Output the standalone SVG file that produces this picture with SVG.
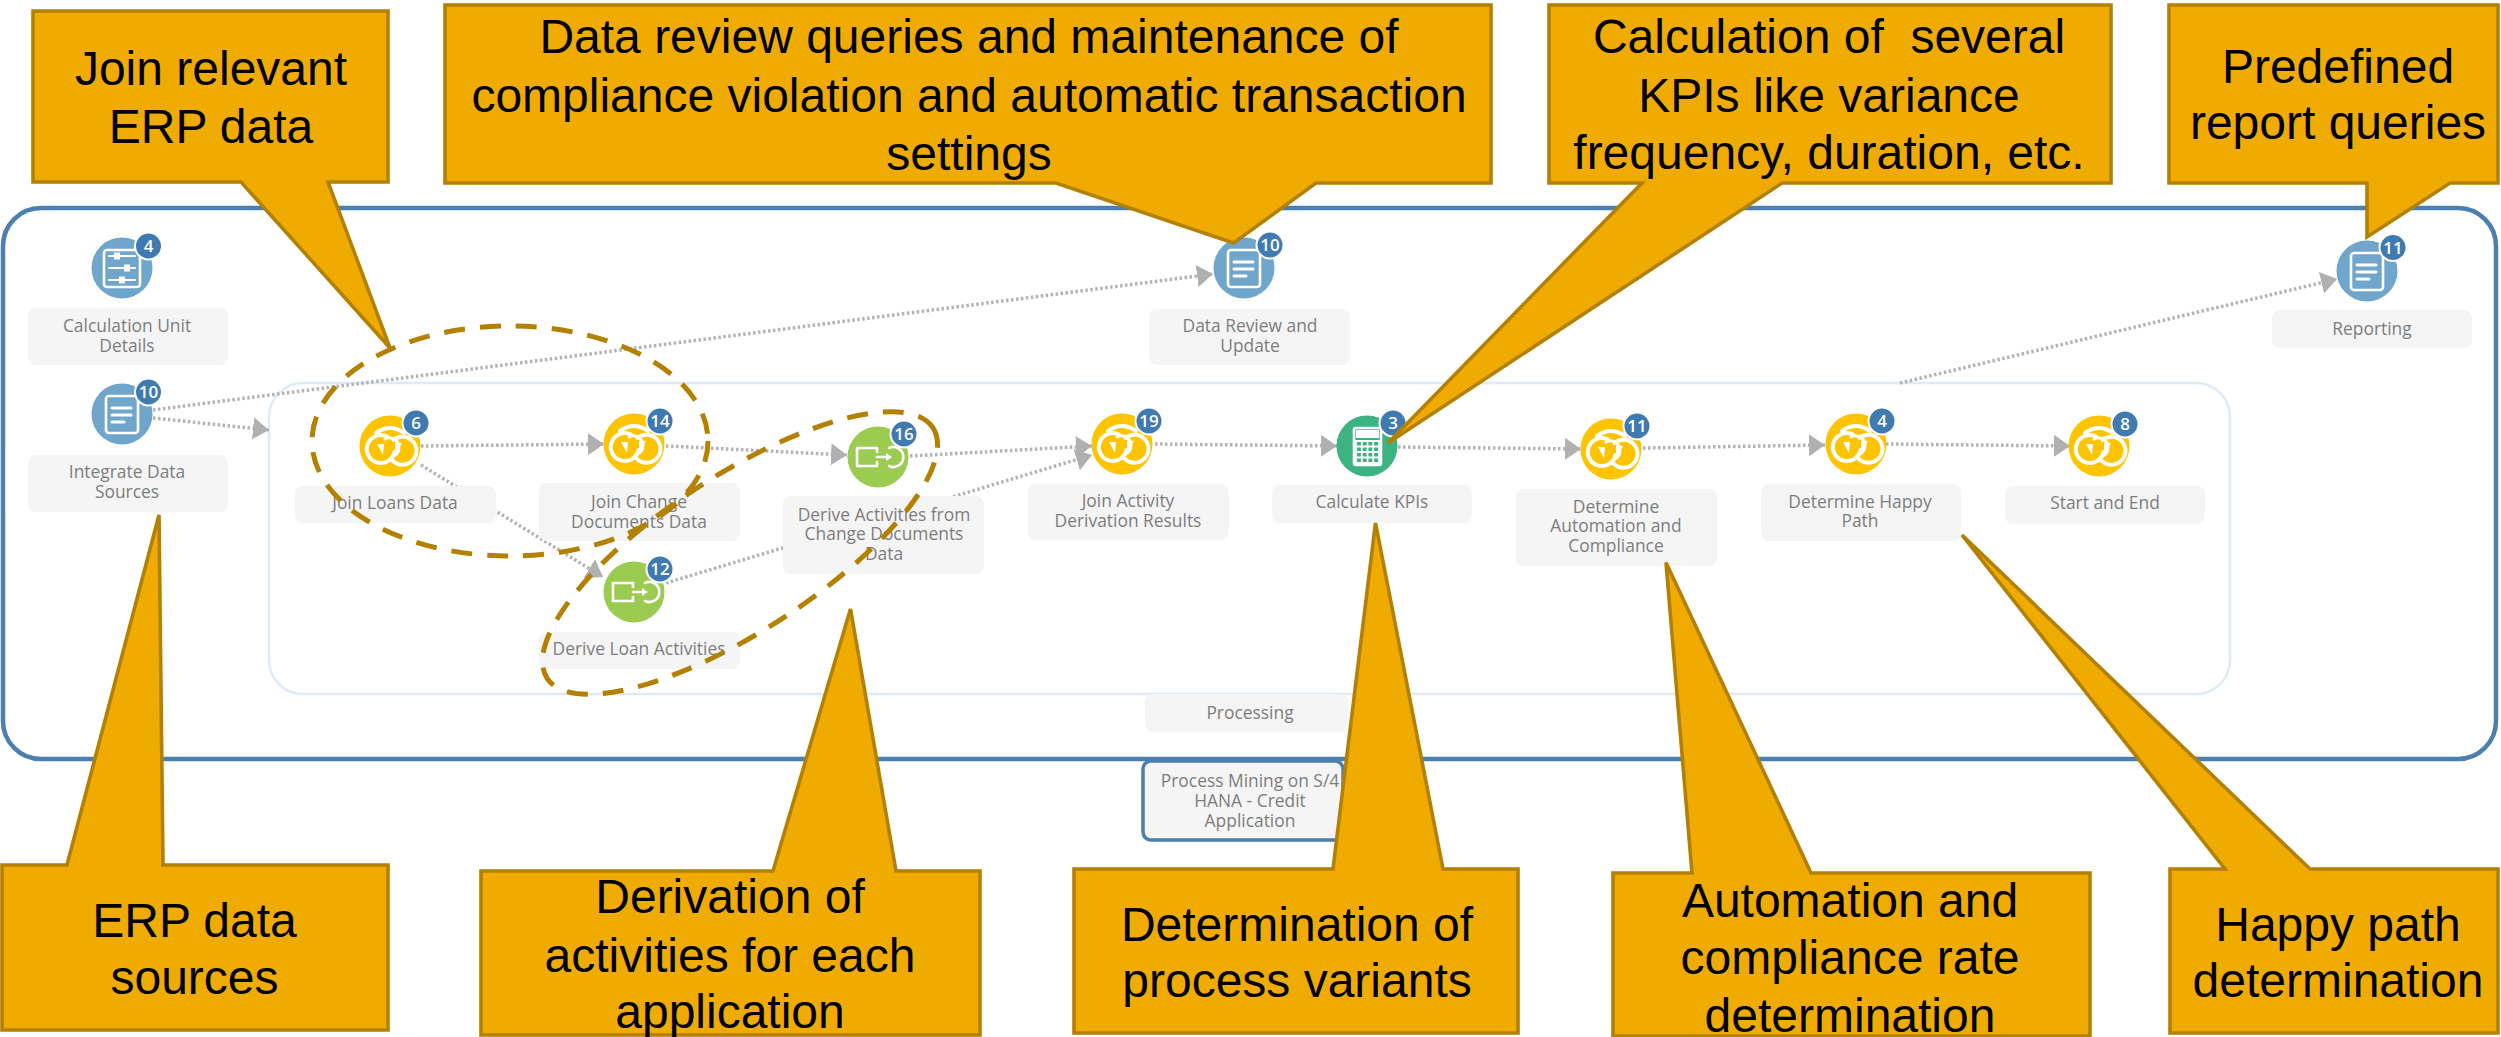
<svg xmlns="http://www.w3.org/2000/svg" width="2501" height="1037" viewBox="0 0 2501 1037">
<style>
.lbl{fill:#f5f5f5}
.lt{font-family:"Open Sans","Liberation Sans",sans-serif;font-size:17.4px;fill:#7d7d7d;text-anchor:middle}
.bt{font-family:"Open Sans","Liberation Sans",sans-serif;font-size:17px;font-weight:600;fill:#fff;text-anchor:middle}
.co{fill:#f0ab00;stroke:#b38000;stroke-width:3.6;stroke-linejoin:miter}
.ct{font-family:"Liberation Sans",Arial,sans-serif;font-size:48px;fill:#000;text-anchor:middle}
.cn{fill:none;stroke:#b3b3b3;stroke-width:3.5;stroke-dasharray:2.5 2.5;marker-end:url(#arr)}
.dash{fill:none;stroke:#b38000;stroke-width:5;stroke-dasharray:21 15}
.w{fill:none;stroke:#fff;stroke-width:2.6;stroke-linecap:round;stroke-linejoin:round}
.wf{fill:#fff}
.badge{fill:#3f7ab0;stroke:#fff;stroke-width:2}
</style>
<defs>
<marker id="arr" markerUnits="userSpaceOnUse" markerWidth="17" markerHeight="24" refX="16" refY="11" orient="auto"><path d="M0,0L16,11L0,22Z" fill="#b0b0b0"/></marker>
<g id="i-join"><circle r="30.5" fill="#ffc400"/>
<path d="M-3,-9.500A14,14 0 1 0 4.500,6" class="w" style="stroke-width:4"/>
<path d="M3.500,-6A14,14 0 1 1 3,15" class="w" style="stroke-width:4"/>
<path d="M-5,-7A9,9 0 0 1 4,10" class="w" style="stroke-width:3"/>
<path d="M-14,-13Q0,-23 14,-13" class="w" style="stroke-width:4"/>
<path d="M-13,-2L-7,9L-6,-2ZM12,-3L5,9L5,-3Z" class="wf"/></g>
<g id="i-doc"><circle r="30.5" fill="#70a5cc"/><rect x="-16" y="-18" width="32" height="37" rx="3" class="w"/><path d="M-10,-6H9M-10,1H9M-10,8H2" class="w" style="stroke-width:3"/></g>
<g id="i-cfg"><circle r="30.5" fill="#70a5cc"/><rect x="-18" y="-18" width="36" height="37" rx="3" class="w"/><path d="M-13,-12H13M-13,0H13M-13,12H13" class="w" style="stroke-width:2.2"/><rect x="-8" y="-15.500" width="6" height="7" class="wf"/><rect x="2" y="-3.500" width="6" height="7" class="wf"/><rect x="-3" y="8.500" width="6" height="7" class="wf"/></g>
<g id="i-der"><circle r="30.5" fill="#9bcb50"/><path d="M-1,-9H-21V9H-1V5M-1,-5V-9" class="w"/><path d="M-1,0H10" class="w"/><path d="M8,-4L14,0L8,4Z" class="wf"/><path d="M11,-9A10,10 0 1 1 11,9" class="w"/></g>
<g id="i-calc"><circle r="30.5" fill="#3cb382"/><rect x="-13" y="-18" width="27" height="37" rx="2" class="w"/><rect x="-11" y="-16" width="23" height="8" class="wf"/><path d="M-11,-5H12V17H-11ZM-11,0.500H12M-11,6H12M-11,11.500H12M-5.200,-5V17M.5,-5V17M6.200,-5V17" fill="none" stroke="#fff" stroke-width="1.8"/></g>
</defs>
<rect x="3" y="208" width="2493" height="551" rx="38" fill="#fff" stroke="#4a7fb0" stroke-width="4.5"/>
<rect id="processing-box" x="269" y="383" width="1961" height="311" rx="34" fill="#fff" stroke="#deebf7" stroke-width="2.5"/>
<g id="connectors">
<path class="cn" d="M153,418L269,430"/>
<path class="cn" d="M153,410L1213,274"/>
<path class="cn" d="M421,446L604,444"/>
<path class="cn" d="M666,446L847,455"/>
<path class="cn" d="M421,465L603,577"/>
<path class="cn" d="M666,583L1092,455"/>
<path class="cn" d="M910,456L1092,446"/>
<path class="cn" d="M1155,444L1337,446"/>
<path class="cn" d="M1398,447L1581,449"/>
<path class="cn" d="M1643,448L1825,445"/>
<path class="cn" d="M1886,444L2070,446"/>
<path class="cn" d="M1900,383L2337,279"/>
</g>
<g id="n-calcunit"><rect class="lbl" x="28" y="308" width="200" height="57" rx="8"/><text class="lt" x="127" y="332">Calculation Unit</text><text class="lt" x="127" y="352">Details</text><use href="#i-cfg" x="122" y="268"/><circle class="badge" cx="148.500" cy="246" r="13.500"/><text class="bt" x="148.500" y="252">4</text></g>
<g id="n-integrate"><rect class="lbl" x="28" y="455" width="200" height="57" rx="8"/><text class="lt" x="127" y="478">Integrate Data</text><text class="lt" x="127" y="498">Sources</text><use href="#i-doc" x="122" y="414"/><circle class="badge" cx="148.500" cy="392" r="13.500"/><text class="bt" x="148.500" y="398">10</text></g>
<g id="n-joinloans"><rect class="lbl" x="295" y="486" width="201" height="37" rx="8"/><text class="lt" x="395" y="509">Join Loans Data</text><use href="#i-join" x="390" y="446"/><circle class="badge" cx="416" cy="423" r="13.500"/><text class="bt" x="416" y="429">6</text></g>
<g id="n-joinchange"><rect class="lbl" x="539" y="483" width="201" height="58" rx="8"/><text class="lt" x="639" y="508">Join Change</text><text class="lt" x="639" y="528">Documents Data</text><use href="#i-join" x="634" y="444"/><circle class="badge" cx="660" cy="421" r="13.500"/><text class="bt" x="660" y="427">14</text></g>
<g id="n-deriveloan"><rect class="lbl" x="539" y="632" width="201" height="37" rx="8"/><text class="lt" x="639" y="655">Derive Loan Activities</text><use href="#i-der" x="634" y="592"/><circle class="badge" cx="660" cy="569" r="13.500"/><text class="bt" x="660" y="575">12</text></g>
<g id="n-datareview"><rect class="lbl" x="1149" y="309" width="201" height="56" rx="8"/><text class="lt" x="1250" y="332">Data Review and</text><text class="lt" x="1250" y="352">Update</text><use href="#i-doc" x="1244" y="268"/><circle class="badge" cx="1270" cy="245" r="13.500"/><text class="bt" x="1270" y="251">10</text></g>
<g id="n-deriveact"><rect class="lbl" x="783" y="496" width="201" height="78" rx="8"/><text class="lt" x="884" y="521">Derive Activities from</text><text class="lt" x="884" y="540">Change Documents</text><text class="lt" x="884" y="560">Data</text><use href="#i-der" x="878" y="457"/><circle class="badge" cx="904" cy="434" r="13.500"/><text class="bt" x="904" y="440">16</text></g>
<g id="n-joinact"><rect class="lbl" x="1028" y="484" width="201" height="56" rx="8"/><text class="lt" x="1128" y="507">Join Activity</text><text class="lt" x="1128" y="527">Derivation Results</text><use href="#i-join" x="1122" y="444"/><circle class="badge" cx="1149" cy="421" r="13.500"/><text class="bt" x="1149" y="427">19</text></g>
<g id="n-kpis"><rect class="lbl" x="1272" y="485" width="200" height="38" rx="8"/><text class="lt" x="1372" y="508">Calculate KPIs</text><use href="#i-calc" x="1367" y="446"/><circle class="badge" cx="1393" cy="423" r="13.500"/><text class="bt" x="1393" y="429">3</text></g>
<g id="n-auto"><rect class="lbl" x="1516" y="489" width="201" height="77" rx="8"/><text class="lt" x="1616" y="513">Determine</text><text class="lt" x="1616" y="532">Automation and</text><text class="lt" x="1616" y="552">Compliance</text><use href="#i-join" x="1611" y="449"/><circle class="badge" cx="1637" cy="426" r="13.500"/><text class="bt" x="1637" y="432">11</text></g>
<g id="n-happy"><rect class="lbl" x="1761" y="484" width="200" height="57" rx="8"/><text class="lt" x="1860" y="508">Determine Happy</text><text class="lt" x="1860" y="527">Path</text><use href="#i-join" x="1856" y="444"/><circle class="badge" cx="1882" cy="421" r="13.500"/><text class="bt" x="1882" y="427">4</text></g>
<g id="n-startend"><rect class="lbl" x="2005" y="486" width="200" height="38" rx="8"/><text class="lt" x="2105" y="509">Start and End</text><use href="#i-join" x="2099" y="446"/><circle class="badge" cx="2125" cy="424" r="13.500"/><text class="bt" x="2125" y="430">8</text></g>
<g id="n-reporting"><rect class="lbl" x="2272" y="310" width="200" height="38" rx="8"/><text class="lt" x="2372" y="335">Reporting</text><use href="#i-doc" x="2367" y="271"/><circle class="badge" cx="2393" cy="247.500" r="13.500"/><text class="bt" x="2393" y="253.500">11</text></g>
<g id="n-processing"><rect class="lbl" x="1145" y="694" width="203" height="38" rx="8"/><text class="lt" x="1250" y="719">Processing</text></g>
<g id="n-procmining"><rect x="1143" y="761" width="200" height="79" rx="8" fill="#f5f5f5" stroke="#4a7fb0" stroke-width="3.500"/><text class="lt" x="1250" y="787">Process Mining on S/4</text><text class="lt" x="1250" y="807">HANA - Credit</text><text class="lt" x="1250" y="827">Application</text></g>
<g id="callouts">
<g id="c-join"><path class="co" d="M33,11H388V182H328L390,348L241,182H33Z"/><text class="ct" x="211" y="85">Join relevant</text><text class="ct" x="211" y="143">ERP data</text></g>
<g id="c-review"><path class="co" d="M445,5H1491V183H1316L1233.500,243L1056,183H445Z"/><text class="ct" x="969" y="53">Data review queries and maintenance of</text><text class="ct" x="969" y="112">compliance violation and automatic transaction</text><text class="ct" x="969" y="170">settings</text></g>
<g id="c-kpi"><path class="co" d="M1549,5H2111V183H1782L1388,443L1642,183H1549Z"/><text class="ct" x="1829" y="53" xml:space="preserve">Calculation of  several</text><text class="ct" x="1829" y="112">KPIs like variance</text><text class="ct" x="1829" y="169">frequency, duration, etc.</text></g>
<g id="c-report"><path class="co" d="M2169,5H2498V183H2450L2367,237V183H2169Z"/><text class="ct" x="2338" y="83">Predefined</text><text class="ct" x="2338" y="139">report queries</text></g>
<g id="c-erp"><path class="co" d="M2,865H67L159,515L163,865H388V1030H2Z"/><text class="ct" x="194.500" y="937">ERP data</text><text class="ct" x="194.500" y="994">sources</text></g>
<g id="c-deriv"><path class="co" d="M481,871H773L850.500,609L896,871H980V1035H481Z"/><text class="ct" x="730" y="913">Derivation of</text><text class="ct" x="730" y="972">activities for each</text><text class="ct" x="730" y="1028">application</text></g>
<g id="c-variant"><path class="co" d="M1074,869H1333L1375.500,523L1443,869H1518V1033H1074Z"/><text class="ct" x="1297" y="941">Determination of</text><text class="ct" x="1297" y="997">process variants</text></g>
<g id="c-auto"><path class="co" d="M1613,873H1692L1666,562.500L1811,873H2090V1036H1613Z"/><text class="ct" x="1850" y="917">Automation and</text><text class="ct" x="1850" y="974">compliance rate</text><text class="ct" x="1850" y="1032">determination</text></g>
<g id="c-happy"><path class="co" d="M2170,869H2225L1962,535L2310,869H2498V1033H2170Z"/><text class="ct" x="2338" y="941">Happy path</text><text class="ct" x="2338" y="997">determination</text></g>
</g>
<ellipse class="dash" cx="510" cy="441" rx="198" ry="115"/>
<ellipse class="dash" cx="740" cy="553" rx="230" ry="78" transform="rotate(-33 740 553)"/>
</svg>
